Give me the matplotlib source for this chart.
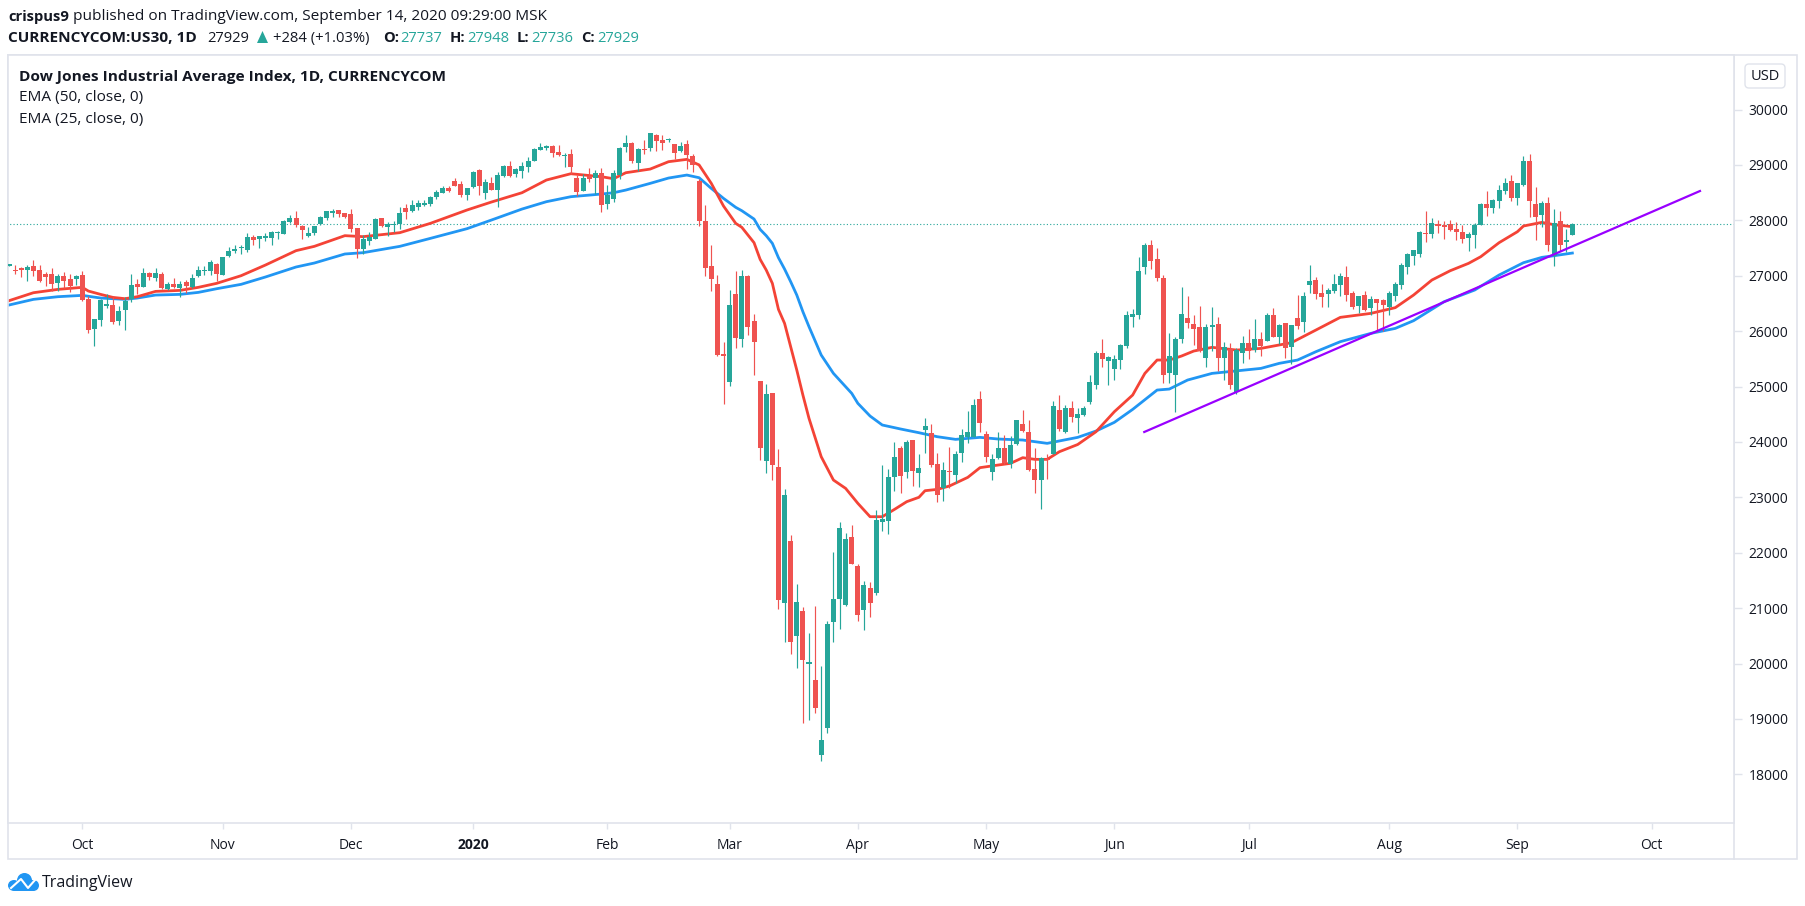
import matplotlib
matplotlib.use("Agg")
import matplotlib.pyplot as plt
from matplotlib.patches import Polygon, Rectangle, FancyBboxPatch, Ellipse

# daily candles, Sep 2019 - Sep 14 2020
opens = [27175, 27102, 27145, 27102, 27175, 27102, 27030, 27030, 26868, 26994,
         26940, 26940, 27012, 26579, 26037, 26200, 26453, 26471, 26182, 26380,
         26579, 26850, 26796, 27048, 26958, 27030, 26760, 26850, 26778, 26886,
         26796, 26994, 27090, 27084, 27211, 27012, 27355, 27445, 27494, 27464,
         27699, 27662, 27681, 27681, 27771, 27753, 27969, 28041, 27897, 27717,
         27771, 27933, 28041, 28132, 28186, 28132, 28114, 27861, 27482, 27626,
         27662, 28041, 27879, 27921, 27933, 28222, 28168, 28240, 28276, 28294,
         28421, 28493, 28583, 28709, 28655, 28457, 28601, 28907, 28492, 28673,
         28546, 28799, 28980, 28835, 28889, 28962, 29070, 29268, 29311, 29341,
         29232, 29154, 29196, 28763, 28528, 28799, 28763, 28853, 28294, 28384,
         28817, 29323, 29395, 29034, 29287, 29305, 29539, 29449, 29449, 29377,
         29250, 29377, 29160, 28709, 27987, 27174, 26850, 25586, 25081, 26669,
         25857, 26994, 26182, 25099, 23655, 24882, 23547, 21092, 22211, 20496,
         20947, 19991, 19702, 18348, 18835, 20749, 21164, 21056, 22283, 21760,
         20965, 21362, 21272, 22554, 22572, 23366, 23890, 23456, 24034, 23438,
         24214, 24160, 23601, 23168, 23474, 23402, 23799, 24088, 24088, 24774,
         24142, 23456, 23709, 23890, 23601, 23962, 24323, 24178, 23510, 23312,
         23691, 23781, 24575, 24178, 24612, 24431, 24485, 24720, 25027, 25604,
         25460, 25315, 25478, 25731, 26254, 26290, 27157, 27554, 27301, 26958,
         25243, 25207, 25857, 26236, 26128, 26074, 25514, 26074, 26128, 25514,
         25676, 24900, 25604, 25785, 25658, 25857, 25821, 26290, 25893, 26146,
         25713, 26236, 26164, 26832, 26922, 26687, 26669, 26723, 26832, 26976,
         26687, 26453, 26651, 26416, 26579, 26561, 26435, 26633, 26832, 27157,
         27355, 27391, 27770, 27752, 27933, 27915, 27933, 27842, 27788, 27680,
         27734, 27915, 28294, 28222, 28348, 28528, 28709, 28402, 28637, 29070,
         28294, 28095, 28312, 27355, 27987, 27614, 27737]
highs = [27215, 27193, 27163, 27193, 27283, 27193, 27066, 27138, 27030, 27066,
         27030, 27012, 27084, 26633, 26218, 26579, 26669, 26615, 26453, 26615,
         27030, 26940, 27138, 27066, 27138, 27066, 26886, 26958, 26904, 26922,
         27030, 27175, 27175, 27283, 27229, 27337, 27518, 27554, 27554, 27771,
         27735, 27717, 27771, 27807, 27807, 28005, 28096, 28168, 27915, 27879,
         27897, 28078, 28168, 28204, 28186, 28132, 28204, 27861, 27735, 27789,
         28041, 28041, 27969, 27987, 28240, 28294, 28366, 28366, 28366, 28439,
         28547, 28619, 28619, 28764, 28709, 28583, 28889, 28925, 28745, 28781,
         28871, 28998, 29070, 28944, 29052, 29142, 29305, 29395, 29359, 29359,
         29359, 29214, 29287, 28817, 28835, 28944, 28907, 28944, 28637, 28907,
         29323, 29539, 29413, 29305, 29449, 29575, 29557, 29539, 29485, 29377,
         29413, 29449, 29196, 28745, 28276, 27554, 27012, 25803, 26741, 27084,
         27102, 27012, 26308, 25099, 25045, 24890, 23872, 23150, 22319, 21435,
         21019, 20550, 21037, 19954, 20767, 22012, 22554, 22355, 22500, 21796,
         21489, 21471, 22770, 23583, 23511, 24000, 23926, 24034, 24034, 23781,
         24431, 24323, 23799, 23637, 23908, 23835, 24232, 24557, 24774, 24918,
         24196, 23781, 24178, 24124, 24106, 24395, 24575, 24395, 23890, 23727,
         23781, 24738, 24846, 24666, 24738, 24612, 24648, 25207, 25640, 25857,
         25550, 25568, 25767, 26362, 26398, 27337, 27590, 27644, 27500, 27012,
         25965, 25893, 26796, 26633, 26290, 26453, 26128, 26435, 26254, 25803,
         25785, 25694, 25911, 26038, 26218, 25983, 26326, 26416, 26128, 26146,
         26110, 26651, 26705, 27193, 26976, 26850, 26778, 27030, 27048, 27175,
         26723, 26633, 26723, 26633, 26579, 26579, 26723, 26886, 27229, 27409,
         27463, 27806, 28167, 28041, 28005, 27987, 28005, 27969, 27915, 27788,
         27951, 28312, 28528, 28384, 28637, 28763, 28817, 28673, 29160, 29196,
         28601, 28348, 28420, 28203, 28167, 27842, 27948]
lows = [27170, 27030, 26976, 26904, 26994, 26886, 26814, 26723, 26723, 26778,
        26705, 26832, 26543, 25965, 25730, 26092, 26417, 26128, 26110, 26019,
        26525, 26669, 26790, 26922, 26904, 26760, 26741, 26778, 26615, 26687,
        26778, 26976, 27012, 27012, 26904, 27012, 27337, 27409, 27392, 27428,
        27554, 27500, 27626, 27554, 27662, 27753, 27951, 27879, 27662, 27699,
        27735, 27915, 28005, 28060, 28060, 28041, 27789, 27319, 27392, 27554,
        27662, 27879, 27717, 27789, 27843, 28023, 28150, 28186, 28258, 28258,
        28384, 28493, 28511, 28619, 28421, 28366, 28583, 28456, 28384, 28546,
        28240, 28781, 28781, 28781, 28763, 28871, 29070, 29268, 29268, 29142,
        29160, 28962, 28835, 28438, 28528, 28691, 28474, 28149, 28203, 28330,
        28745, 29232, 29034, 28889, 29196, 29250, 29250, 29268, 29413, 29106,
        29232, 28926, 28871, 27897, 26994, 26723, 25550, 24683, 25008, 25694,
        25712, 25929, 25207, 23673, 23438, 23312, 20983, 20388, 20171, 19918,
        18926, 18980, 19106, 18240, 18745, 20388, 20622, 21038, 21796, 20767,
        20604, 20839, 21236, 22391, 22337, 23113, 23077, 23348, 23204, 23186,
        23799, 23547, 22915, 22933, 23168, 23258, 23637, 23980, 24088, 24178,
        23637, 23312, 23691, 23601, 23529, 23944, 24178, 23474, 23077, 22788,
        23330, 23781, 24196, 24160, 24359, 24160, 24467, 24684, 24954, 25351,
        25027, 25117, 25315, 25694, 26074, 26218, 27030, 27121, 26904, 25063,
        25063, 24539, 25785, 26056, 25749, 25622, 25351, 25640, 25279, 25117,
        24954, 24864, 25424, 25496, 25622, 25550, 25821, 25893, 25767, 25514,
        25406, 26038, 25983, 26687, 26579, 26435, 26435, 26687, 26633, 26543,
        26398, 26326, 26362, 26290, 25983, 26001, 26290, 26543, 26760, 27030,
        27193, 27337, 27608, 27680, 27770, 27662, 27806, 27644, 27590, 27445,
        27499, 27915, 28077, 28131, 28222, 28474, 28348, 28276, 28619, 28059,
        27644, 27879, 27445, 27175, 27445, 27427, 27736]
closes = [27211, 27084, 27108, 27157, 27084, 26904, 26976, 26850, 26994, 26904,
          26814, 26994, 26561, 26019, 26218, 26561, 26489, 26164, 26362, 26543,
          26832, 26796, 27048, 26976, 27048, 26778, 26850, 26796, 26850, 26814,
          26958, 27102, 27108, 27247, 27030, 27337, 27445, 27482, 27518, 27699,
          27644, 27717, 27717, 27789, 27789, 27987, 28041, 27915, 27825, 27771,
          27897, 28060, 28168, 28168, 28114, 28060, 27843, 27482, 27662, 27699,
          28023, 27897, 27933, 27933, 28132, 28150, 28276, 28312, 28312, 28421,
          28511, 28583, 28529, 28619, 28457, 28583, 28871, 28619, 28691, 28546,
          28817, 28980, 28799, 28926, 28980, 29070, 29287, 29323, 29341, 29214,
          29178, 29184, 28962, 28510, 28763, 28745, 28853, 28276, 28456, 28853,
          29305, 29395, 29070, 29287, 29268, 29575, 29431, 29395, 29461, 29214,
          29341, 29178, 28998, 27987, 27138, 26940, 25568, 25550, 26471, 25875,
          26994, 26073, 25803, 23890, 24864, 23583, 21146, 23041, 20388, 21110,
          20063, 20027, 19196, 18619, 20713, 21164, 22446, 22247, 21796, 20875,
          21417, 21092, 22590, 22608, 23366, 23727, 23384, 23998, 23474, 23529,
          24287, 23583, 23041, 23492, 23456, 23781, 24124, 24178, 24666, 24341,
          23727, 23691, 23890, 23619, 23944, 24395, 24196, 23492, 23312, 23709,
          23673, 24648, 24232, 24612, 24449, 24503, 24612, 25081, 25604, 25496,
          25532, 25496, 25749, 26290, 26308, 27084, 27554, 27265, 26958, 25207,
          25550, 25857, 26308, 26146, 26038, 25640, 26074, 26110, 25514, 25713,
          25027, 25658, 25785, 25640, 25857, 25731, 26290, 25893, 26110, 25694,
          26110, 26092, 26633, 26904, 26669, 26615, 26741, 26850, 26994, 26651,
          26435, 26633, 26380, 26579, 26507, 26471, 26687, 26850, 27193, 27391,
          27463, 27788, 27752, 27951, 27897, 27885, 27824, 27788, 27662, 27752,
          27915, 28294, 28222, 28366, 28546, 28673, 28402, 28673, 29070, 28348,
          28059, 28312, 27554, 27951, 27554, 27644, 27929]

# EMA lines, read at these bar numbers
ema25_bars = [0, 4, 8, 12, 13, 15, 17, 19, 21, 24, 28, 31, 34, 38, 42, 47, 50, 55, 58, 64, 69, 75,
              79, 84, 88, 92, 97, 99, 101, 105, 108, 111, 113, 115, 117, 119, 120, 122, 123, 124,
              125, 126, 127, 128, 129, 130, 131, 133, 135, 137, 139, 141, 143, 145, 147, 149, 150,
              152, 154, 157, 159, 162, 164, 166, 168, 170, 172, 175, 178, 181, 184, 186, 188, 190,
              192, 194, 197, 201, 205, 210, 214, 218, 223, 227, 230, 233, 236, 239, 241, 244, 247,
              248, 251, 253, 256]
ema25 = [26549, 26693, 26753, 26790, 26723, 26663, 26609, 26585, 26621, 26717, 26735, 26790, 26862, 27000,
         27193, 27452, 27530, 27723, 27705, 27777, 27945, 28186,
         28330, 28498, 28727, 28841, 28787, 28751, 28859, 28925, 29058, 29100, 29000, 28667, 28258, 27945,
         27873, 27596, 27295, 27102, 26862, 26392, 26140, 25718, 25297, 24846, 24425, 23733, 23312, 23161,
         22891, 22650, 22650, 22782, 22921, 23000, 23119, 23143, 23204, 23360, 23535, 23583, 23613, 23715,
         23685, 23685, 23823, 23953, 24184, 24545, 24846, 25237, 25478, 25478, 25550, 25640, 25707, 25658,
         25688, 25791, 26019, 26248, 26320, 26423, 26651, 26922, 27090, 27223, 27343, 27596, 27794, 27897,
         27963, 27921, 27885]
ema50_bars = [0, 4, 8, 12, 15, 19, 21, 24, 28, 31, 34, 38, 42, 47, 50, 55, 58, 64, 69, 75, 79, 84, 88,
              92, 97, 99, 101, 105, 108, 111, 113, 115, 117, 119, 120, 122, 123, 124, 125, 126, 127,
              128, 129, 130, 131, 133, 135, 138, 139, 141, 143, 146, 149, 152, 155, 159, 162, 166,
              170, 175, 178, 181, 184, 188, 190, 193, 197, 205, 208, 211, 214, 218, 223, 227, 230,
              235, 240, 244, 248, 251, 253, 256]
ema50 = [26471, 26573, 26621, 26645, 26597, 26573, 26597, 26651, 26663, 26699, 26765, 26844, 26977, 27157,
         27229, 27392, 27416, 27530, 27674, 27849, 28005, 28203, 28336, 28426, 28474, 28498, 28546, 28667,
         28763, 28817, 28769, 28576, 28396, 28234, 28173, 28023, 27836, 27722, 27584, 27325, 27120, 26892,
         26651, 26350, 26080, 25568, 25237, 24876, 24696, 24467, 24305, 24233, 24166, 24094, 24046, 24082,
         24052, 24034, 23974, 24082, 24196, 24353, 24587, 24936, 24954, 25117, 25237, 25327, 25418, 25478,
         25628, 25809, 25959, 26049, 26188, 26531, 26741, 27012, 27235, 27331, 27361, 27409]

# purple trend line drawn on the chart: bar number, price
trend_bars = [185.9, 276.9]
trend_prices = [24179, 28529]

last_close = 27929
price_ticks = list(range(18000, 30001, 1000))
month_bars = [12, 35, 56, 76, 98, 118, 139, 160, 181, 203, 226, 247, 269]
month_labels = ["Oct", "Nov", "Dec", "2020", "Feb", "Mar", "Apr", "May", "Jun", "Jul", "Aug", "Sep", "Oct"]

UP = "#26a69a"
DOWN = "#ef5350"
BORDER = "#e0e3eb"
TEXT = "#131722"
W, H = 1805, 906

plt.rcParams["font.family"] = ["Open Sans", "DejaVu Sans"]

fig = plt.figure(figsize=(W / 100, H / 100), dpi=100, facecolor="white")

# chart pane, placed in pixels
left, right, top, bottom = 8, 1734, 55, 823
ax = fig.add_axes([left / W, (H - bottom) / H, (right - left) / W, (bottom - top) / H])
ax.set_xlim(-0.164, 282.47)
ax.set_ylim(17121, 30984)

ax.plot([-1, 283], [last_close, last_close], color=UP, lw=0.8, ls=(0, (1, 2)), zorder=1)
ax.plot(ema50_bars, ema50, color="#2196f3", lw=2.0, zorder=2)
ax.plot(ema25_bars, ema25, color="#f44336", lw=2.0, zorder=2)

for i in range(len(opens)):
    col = UP if closes[i] >= opens[i] else DOWN
    ax.vlines(i, lows[i], highs[i], color=col, lw=0.85, zorder=3)
    ax.bar(i, max(abs(closes[i] - opens[i]), 18), bottom=min(opens[i], closes[i]), width=0.82,
           color=col, linewidth=0, zorder=4)

ax.plot(trend_bars, trend_prices, color="#9900ff", lw=1.6, zorder=5)

ax.yaxis.tick_right()
ax.set_yticks(price_ticks)
ax.set_yticklabels([str(p) for p in price_ticks])
ax.set_xticks(month_bars)
ax.set_xticklabels(month_labels)
ax.tick_params(axis="y", length=6, width=1, color=BORDER, labelcolor=TEXT, labelsize=10, pad=4.5)
ax.tick_params(axis="x", length=4, width=1, color=BORDER, labelcolor=TEXT, labelsize=10, pad=7)
ax.get_xticklabels()[3].set_fontweight("bold")
for s in ax.spines.values():
    s.set_color(BORDER)
    s.set_linewidth(1.2)

# page layer in pixels for header, frame and logo
page = fig.add_axes([0, 0, 1, 1], zorder=-1)
page.set_xlim(0, W)
page.set_ylim(H, 0)
page.axis("off")
page.add_patch(Rectangle((8, 55), 1789, 804, fill=False, ec=BORDER, lw=1.2))
page.plot([1734, 1734], [55, 859], color=BORDER, lw=1.2)

over = fig.add_axes([0, 0, 1, 1], zorder=5)
over.set_xlim(0, W)
over.set_ylim(H, 0)
over.axis("off")


def label(x, y, s, color=TEXT, weight="normal", size=11.1, ha="left"):
    over.text(x, y, s, color=color, fontweight=weight, fontsize=size, ha=ha, va="center")


label(8, 16.5, "crispus9", weight="bold", size=10.6)
label(73, 16.5, "published on TradingView.com, September 14, 2020 09:29:00 MSK")
label(8, 38.5, "CURRENCYCOM:US30, 1D", weight="bold")
label(207.5, 38.5, "27929", size=10.6)
over.add_patch(Polygon([[257, 43], [268, 43], [262.5, 31]], color=UP, lw=0))
label(273, 38.5, "+284 (+1.03%)", size=10.6)
label(383, 38.5, "O:", weight="bold", size=10.6)
label(400, 38.5, "27737", color=UP, size=10.6)
label(450, 38.5, "H:", weight="bold", size=10.6)
label(467.5, 38.5, "27948", color=UP, size=10.6)
label(517, 38.5, "L:", weight="bold", size=10.6)
label(531, 38.5, "27736", color=UP, size=10.6)
label(581, 38.5, "C:", weight="bold", size=10.6)
label(597, 38.5, "27929", color=UP, size=10.6)

label(19, 76.5, "Dow Jones Industrial Average Index, 1D, CURRENCYCOM", weight="bold")
label(19, 98, "EMA (50, close, 0)")
label(19, 119, "EMA (25, close, 0)")

over.add_patch(FancyBboxPatch((1745, 64), 40, 24, boxstyle="round,pad=0,rounding_size=4",
                              fc="white", ec=BORDER, lw=1.0))
label(1765, 76, "USD", ha="center", size=10.5)

# logo
logo = "#2196f3"
over.add_patch(Ellipse((14, 885.5), 12, 11, color=logo, lw=0))
over.add_patch(Ellipse((24.5, 880.5), 15, 15, color=logo, lw=0))
over.add_patch(Ellipse((33.5, 885.5), 11, 11, color=logo, lw=0))
over.add_patch(Rectangle((14, 883), 20, 8, color=logo, lw=0))
over.plot([11, 21, 28, 35], [888, 879, 888, 880], color="white", lw=1.5)
label(42, 883, "TradingView", size=11.5)

fig.savefig("out.png", dpi=100)
